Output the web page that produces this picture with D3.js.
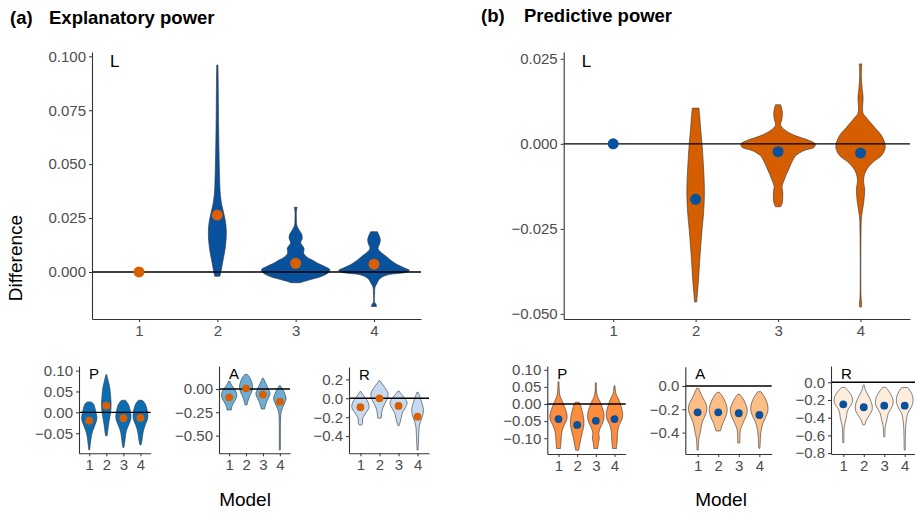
<!DOCTYPE html>
<html>
<head>
<meta charset="utf-8">
<script src="https://cdn.jsdelivr.net/npm/d3@7"></script>
<style>
body { margin: 0; background: #fff; }
svg { font-family: "Liberation Sans", Arial, sans-serif; }
</style>
</head>
<body>
<svg id="chart" width="915" height="513"></svg>
<script>
var models = ["1", "2", "3", "4"];

// violin profiles: [value, density]; model 1 of L has no spread
var explL = [
  [],
  [[-0.002,2.5],[0,3.5],[0.005,5.5],[0.01,7.5],[0.015,8.7],[0.019,8.9],[0.023,8.2],[0.027,6.5],[0.031,4.5],[0.035,3.2],[0.04,2.5],[0.05,1.9],[0.06,1.5],[0.07,1.2],[0.08,1.0],[0.09,0.8],[0.096,0.6]],
  [[-0.005,4],[-0.0035,15],[-0.002,26],[-0.0005,32],[0.001,34],[0.0025,29],[0.004,22],[0.0055,16.7],[0.007,11],[0.0087,8],[0.011,8.3],[0.0135,5],[0.0155,6.5],[0.0175,6],[0.0195,3.3],[0.0215,1.2],[0.025,0.7],[0.0285,0.8],[0.03,1.5]],
  [[-0.016,2.5],[-0.015,2],[-0.014,0.6],[-0.01,0.6],[-0.007,1],[-0.0052,3],[-0.003,6],[-0.0014,13],[0,33],[0.0008,35],[0.0017,31],[0.004,21],[0.0071,12.5],[0.0095,6],[0.011,4],[0.013,5.5],[0.015,6.3],[0.017,5],[0.0187,3.3]]
];
var explLMean = [0, 0.0264, 0.004, 0.0036];

var explP = [
  [[-0.09,0.5],[-0.075,1.2],[-0.06,2],[-0.045,3.5],[-0.03,6],[-0.015,8],[0,7],[0.01,6],[0.02,4.5],[0.025,2]],
  [[-0.056,0.8],[-0.05,1.2],[-0.035,2],[-0.02,3],[0,4.5],[0.02,5],[0.04,4.5],[0.06,3.5],[0.075,2],[0.09,0.5]],
  [[-0.084,0.5],[-0.075,1.2],[-0.06,2],[-0.045,3],[-0.03,5.5],[-0.015,7.8],[0,7.5],[0.01,6.5],[0.02,5],[0.029,2]],
  [[-0.078,0.5],[-0.072,1.2],[-0.06,2],[-0.045,3],[-0.03,5],[-0.015,7.5],[0,7.5],[0.01,6.5],[0.02,5],[0.029,2]]
];
var explPMean = [-0.02, 0.016, -0.014, -0.013];

var explA = [
  [[-0.225,2],[-0.19,2.5],[-0.15,4],[-0.1,6.5],[-0.05,7],[0,5],[0.03,3],[0.06,1.5],[0.086,0.5]],
  [[-0.17,1],[-0.14,1.5],[-0.1,2.5],[-0.06,4],[-0.02,5.5],[0.03,6],[0.08,5],[0.13,3],[0.158,1]],
  [[-0.215,1.5],[-0.19,2],[-0.15,3],[-0.1,5],[-0.05,6.5],[0,5],[0.05,3],[0.09,1.5],[0.115,0.5]],
  [[-0.655,0.5],[-0.6,0.5],[-0.3,0.7],[-0.25,1.2],[-0.2,2.5],[-0.15,4.5],[-0.1,5.8],[-0.05,4.5],[0,2.5],[0.035,0.5]]
];
var explAMean = [-0.089, 0.0075, -0.06, -0.136];

var explR = [
  [[-0.283,1],[-0.26,2],[-0.23,1.8],[-0.2,2.5],[-0.15,5],[-0.1,7.5],[-0.05,7],[0,4.5],[0.04,2],[0.07,0.5]],
  [[-0.21,1.5],[-0.15,2],[-0.1,3],[-0.05,5],[0,7],[0.05,7.5],[0.1,5.5],[0.15,2.5],[0.186,0.5]],
  [[-0.29,0.5],[-0.25,1.5],[-0.2,2.5],[-0.15,3.5],[-0.1,6],[-0.05,7.5],[0,5.5],[0.05,2],[0.077,0.5]],
  [[-0.547,0.5],[-0.5,0.6],[-0.4,1],[-0.3,1.5],[-0.25,2.5],[-0.2,4],[-0.15,5],[-0.1,5],[-0.05,3.8],[0,2.5],[0.063,0.5]]
];
var explRMean = [-0.095, 0, -0.081, -0.195];

var predL = [
  [],
  [[-0.0465,1],[-0.044,1.7],[-0.04,2.8],[-0.035,3.8],[-0.03,5],[-0.025,6.3],[-0.02,7.8],[-0.015,8.5],[-0.01,8.2],[-0.005,7.3],[0,6.2],[0.004,5],[0.008,4],[0.0105,3.2]],
  [[-0.0185,2.5],[-0.0175,4],[-0.016,4.5],[-0.014,4.5],[-0.0125,3.8],[-0.011,5.5],[-0.009,8],[-0.007,11],[-0.005,14],[-0.0035,17],[-0.002,25],[-0.001,35],[0,36],[0.001,30],[0.0025,16],[0.004,7],[0.0055,2.5],[0.007,3.5],[0.0085,4.2],[0.01,3.8],[0.0115,2.5]],
  [[-0.048,0.8],[-0.047,1],[-0.045,0.5],[-0.026,0.5],[-0.0214,1],[-0.0174,3],[-0.0135,4],[-0.0106,3],[-0.0081,5],[-0.0057,11],[-0.0032,21],[-0.0008,24],[0.0021,21],[0.0047,14],[0.0076,6],[0.009,2.5],[0.011,2],[0.0135,2.5],[0.0165,1.5],[0.02,0.8],[0.0235,1.2]]
];
var predLMean = [0, -0.0163, -0.0023, -0.0027];

var predP = [
  [[-0.13,2],[-0.11,2.5],[-0.09,3],[-0.075,4],[-0.06,6],[-0.045,8.5],[-0.03,8.5],[-0.015,7],[0,5],[0.01,3.5],[0.025,1.5],[0.04,0.8],[0.065,0.5]],
  [[-0.135,1.5],[-0.12,2.5],[-0.1,3.8],[-0.08,5.5],[-0.06,6.8],[-0.04,6.5],[-0.02,5],[0,3],[0.005,2]],
  [[-0.13,2],[-0.115,2.5],[-0.1,3.5],[-0.085,3],[-0.07,4.5],[-0.055,7],[-0.04,8.3],[-0.025,8],[-0.01,6.5],[0.005,4.5],[0.02,2],[0.035,0.8],[0.062,0.5]],
  [[-0.13,2],[-0.12,2.3],[-0.105,2.8],[-0.09,3],[-0.075,3.5],[-0.06,5],[-0.045,7.5],[-0.03,8.3],[-0.015,7.5],[0,6],[0.015,4],[0.03,1.5],[0.053,0.5]]
];
var predPMean = [-0.044, -0.061, -0.049, -0.044];

var predA = [
  [[-0.55,0.6],[-0.45,1.2],[-0.4,2.5],[-0.35,3.5],[-0.3,5],[-0.25,7.5],[-0.2,9],[-0.15,8],[-0.1,5],[-0.05,2.5],[-0.02,1]],
  [[-0.386,2],[-0.36,3],[-0.32,4.5],[-0.27,7],[-0.22,8.7],[-0.17,8.2],[-0.12,6],[-0.08,3.5],[-0.054,1]],
  [[-0.49,1],[-0.42,1.2],[-0.38,1.5],[-0.34,3],[-0.3,5],[-0.25,7.5],[-0.2,8.2],[-0.15,6.5],[-0.1,3.5],[-0.071,1]],
  [[-0.535,0.5],[-0.5,0.8],[-0.42,1.2],[-0.37,2],[-0.32,3.5],[-0.27,6],[-0.22,8.2],[-0.17,8.2],[-0.12,6.5],[-0.08,4],[-0.049,1.5]]
];
var predAMean = [-0.226, -0.226, -0.234, -0.249];

var predR = [
  [[-0.68,0.6],[-0.5,1],[-0.45,2],[-0.4,3],[-0.35,3.5],[-0.3,5],[-0.25,8],[-0.2,9],[-0.15,8],[-0.1,5],[-0.057,1.5]],
  [[-0.48,1],[-0.43,2.5],[-0.38,5],[-0.32,8],[-0.26,8.2],[-0.2,6.5],[-0.13,3.5],[-0.08,1.5],[-0.03,0.5]],
  [[-0.615,0.6],[-0.5,1],[-0.45,2],[-0.4,3],[-0.35,4],[-0.3,6.5],[-0.25,8.5],[-0.2,8.5],[-0.15,7],[-0.1,4.5],[-0.057,1.5]],
  [[-0.765,0.5],[-0.6,0.7],[-0.5,1],[-0.4,2],[-0.35,3],[-0.3,5.5],[-0.25,7.5],[-0.2,8.2],[-0.15,7.5],[-0.1,5.5],[-0.06,3]]
];
var predRMean = [-0.249, -0.282, -0.264, -0.264];

// axis limits and tick values
var explLLim = [-0.0218, 0.102], explLTicks = [0, 0.025, 0.05, 0.075, 0.1];
var explPLim = [-0.098, 0.111],  explPTicks = [-0.05, 0, 0.05, 0.1];
var explALim = [-0.69, 0.247],   explATicks = [-0.5, -0.25, 0];
var explRLim = [-0.582, 0.331],  explRTicks = [-0.4, -0.2, 0, 0.2];
var predLLim = [-0.0515, 0.027], predLTicks = [-0.05, -0.025, 0, 0.025];
var predPLim = [-0.146, 0.111],  predPTicks = [-0.1, -0.05, 0, 0.05, 0.1];
var predALim = [-0.584, 0.166],  predATicks = [-0.4, -0.2, 0];
var predRLim = [-0.81, 0.184],   predRTicks = [-0.8, -0.6, -0.4, -0.2, 0];

var blue = "#08519c", orange = "#d95f02";

var svg = d3.select("#chart");

var panels = [
  {prof: explL, mean: explLMean, lim: explLLim, ticks: explLTicks, fmt: ".3f", lab: "L",
   box: [92, 52, 421, 319], fill: blue, dot: orange, big: true},
  {prof: explP, mean: explPMean, lim: explPLim, ticks: explPTicks, fmt: ".2f", lab: "P",
   box: [79, 366, 150.7, 453.3], fill: "#0b6db2", dot: orange},
  {prof: explA, mean: explAMean, lim: explALim, ticks: explATicks, fmt: ".2f", lab: "A",
   box: [219, 366, 290, 453.3], fill: "#6baed6", dot: orange},
  {prof: explR, mean: explRMean, lim: explRLim, ticks: explRTicks, fmt: ".1f", lab: "R",
   box: [349, 367, 429, 453.3], fill: "#c6dbef", dot: orange},
  {prof: predL, mean: predLMean, lim: predLLim, ticks: predLTicks, fmt: ".3f", lab: "L",
   box: [563.7, 52, 910, 319], fill: "#d55e00", dot: blue, big: true},
  {prof: predP, mean: predPMean, lim: predPLim, ticks: predPTicks, fmt: ".2f", lab: "P",
   box: [547.3, 366, 625.7, 454], fill: "#fd8d3c", dot: blue},
  {prof: predA, mean: predAMean, lim: predALim, ticks: predATicks, fmt: ".1f", lab: "A",
   box: [685.3, 366.7, 771.7, 454], fill: "#fdbe85", dot: blue},
  {prof: predR, mean: predRMean, lim: predRLim, ticks: predRTicks, fmt: ".1f", lab: "R",
   box: [831, 366, 917, 454], fill: "#feeddc", dot: blue}
];

panels.forEach(function (p) {
  var b = p.box;
  var x = d3.scalePoint().domain(models).range([b[0], b[2]]).padding(0.6);
  var y = d3.scaleLinear().domain(p.lim).range([b[3], b[1]]);
  var maxD = d3.max(p.prof, function (v) { return d3.max(v, function (d) { return d[1]; }) || 0; });
  var w = d3.scaleLinear().domain([0, maxD]).range([0, 0.45 * x.step()]);
  var g = svg.append("g");

  p.prof.forEach(function (v, i) {
    if (!v.length) return;
    var cx = x(models[i]);
    var pts = v.slice().sort(function (a, c) { return a[0] - c[0]; });
    var area = d3.area()
      .y(function (d) { return y(d[0]); })
      .x0(function (d) { return cx - w(d[1]); })
      .x1(function (d) { return cx + w(d[1]); })
      .curve(d3.curveCatmullRom);
    g.append("path")
      .attr("d", area(pts))
      .attr("fill", p.fill)
      .attr("stroke", "#333")
      .attr("stroke-width", 0.6);
  });

  g.append("line")
    .attr("x1", b[0]).attr("x2", b[2])
    .attr("y1", y(0)).attr("y2", y(0))
    .attr("stroke", "#000").attr("stroke-width", 1.4);

  g.selectAll("circle.m")
    .data(p.mean)
    .enter()
    .append("circle")
    .attr("cx", function (d, i) { return x(models[i]); })
    .attr("cy", function (d) { return y(d); })
    .attr("r", p.big ? 5.5 : 3.9)
    .attr("fill", p.dot);

  var ya = g.append("g")
    .attr("transform", "translate(" + b[0] + ",0)")
    .call(d3.axisLeft(y).tickValues(p.ticks).tickFormat(d3.format(p.fmt)).tickSize(3).tickSizeOuter(0).tickPadding(3));
  var xa = g.append("g")
    .attr("transform", "translate(0," + b[3] + ")")
    .call(d3.axisBottom(x).tickSize(3).tickSizeOuter(0).tickPadding(3));
  [ya, xa].forEach(function (a) {
    a.select(".domain").attr("stroke", "#333").attr("stroke-width", 1.1);
    a.selectAll(".tick line").attr("stroke", "#333");
    a.selectAll(".tick text").attr("fill", "#4d4d4d").style("font-size", "15px");
  });

  g.append("text")
    .attr("x", b[0] + (p.big ? 18 : 10))
    .attr("y", b[1] + (p.big ? 15 : 12.5))
    .style("font-size", p.big ? "17px" : "15px")
    .text(p.lab);
});

// titles and axis titles
svg.append("text").attr("x", 10).attr("y", 24).style("font-size", "18.5px").style("font-weight", "bold").text("(a)");
svg.append("text").attr("x", 49).attr("y", 24).style("font-size", "18.5px").style("font-weight", "bold").text("Explanatory power");
svg.append("text").attr("x", 481).attr("y", 22).style("font-size", "18.5px").style("font-weight", "bold").text("(b)");
svg.append("text").attr("x", 524).attr("y", 22).style("font-size", "18.5px").style("font-weight", "bold").text("Predictive power");

svg.append("text")
  .attr("transform", "translate(22,258) rotate(-90)")
  .attr("text-anchor", "middle")
  .style("font-size", "19px")
  .text("Difference");

svg.append("text").attr("x", 245).attr("y", 506).attr("text-anchor", "middle").style("font-size", "19px").text("Model");
svg.append("text").attr("x", 721).attr("y", 506).attr("text-anchor", "middle").style("font-size", "19px").text("Model");
</script>
</body>
</html>
